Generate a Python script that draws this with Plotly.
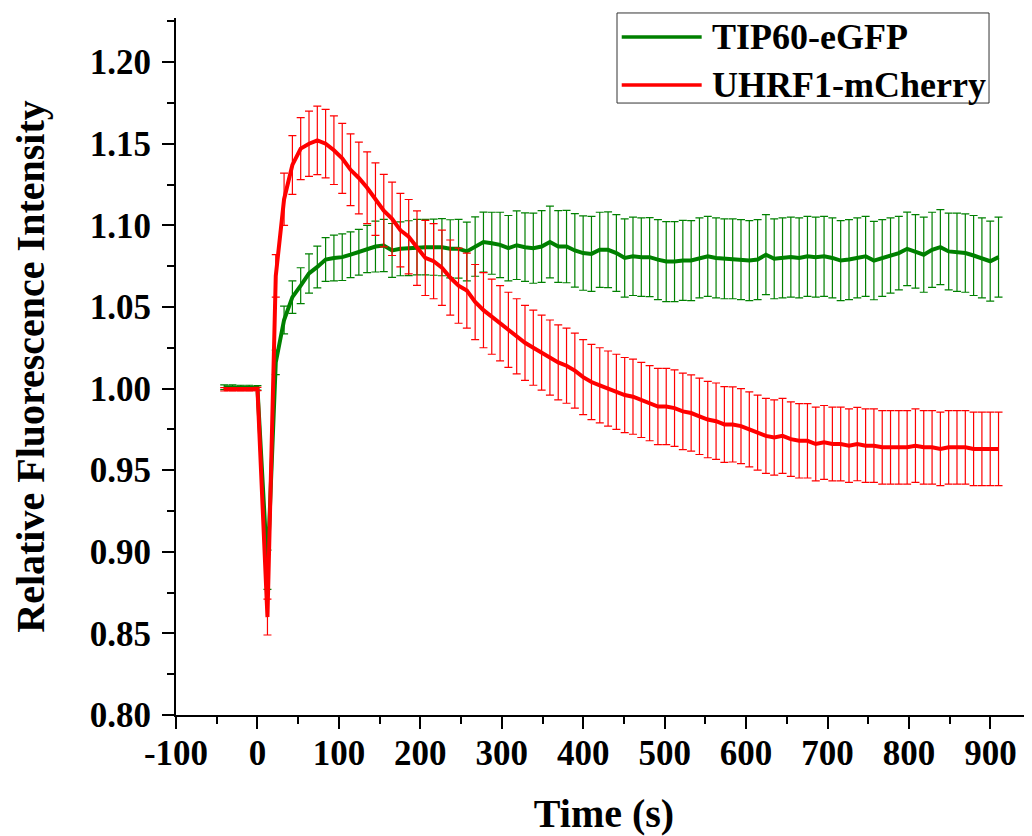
import plotly.graph_objects as go

# time points (s); bleach happens between 0 and the first post-bleach frame
time_s = [-40.8, -30.6, -20.4, -10.2, 0.0,
          12.3, 22.5, 32.7, 42.9, 53.1, 63.3, 73.5, 83.7, 93.9, 104.1,
          114.3, 124.5, 134.7, 144.9, 155.1, 165.3, 175.5, 185.7, 195.9, 206.1,
          216.3, 226.5, 236.7, 246.9, 257.1, 267.3, 277.5, 287.7, 297.9, 308.1,
          318.3, 328.5, 338.7, 348.9, 359.1, 369.3, 379.5, 389.7, 399.9, 410.1,
          420.3, 430.5, 440.7, 450.9, 461.1, 471.3, 481.5, 491.7, 501.9, 512.1,
          522.3, 532.5, 542.7, 552.9, 563.1, 573.3, 583.5, 593.7, 603.9, 614.1,
          624.3, 634.5, 644.7, 654.9, 665.1, 675.3, 685.5, 695.7, 705.9, 716.1,
          726.3, 736.5, 746.7, 756.9, 767.1, 777.3, 787.5, 797.7, 807.9, 818.1,
          828.3, 838.5, 848.7, 858.9, 869.1, 879.3, 889.5, 899.7, 909.9]

tip60_mean = [1.0008, 1.0007, 1.0006, 1.0006, 1.0004,
              0.889, 1.016, 1.042, 1.056, 1.063, 1.0705, 1.0745, 1.079, 1.080, 1.0805,
              1.082, 1.0835, 1.0855, 1.087, 1.0876, 1.0846, 1.0856, 1.086, 1.0866, 1.0866,
              1.0866, 1.0866, 1.0856, 1.0856, 1.084, 1.087, 1.0897, 1.089, 1.088, 1.086,
              1.0878, 1.0866, 1.086, 1.087, 1.0898, 1.087, 1.087, 1.0846, 1.083, 1.0825,
              1.085, 1.085, 1.083, 1.080, 1.081, 1.0805, 1.0805, 1.079, 1.0778, 1.0778,
              1.0785, 1.0784, 1.080, 1.081, 1.080, 1.0795, 1.0795, 1.079, 1.0784, 1.079,
              1.082, 1.0795, 1.080, 1.0805, 1.080, 1.081, 1.0805, 1.081, 1.080, 1.0784,
              1.079, 1.080, 1.081, 1.0784, 1.080, 1.0815, 1.083, 1.0856, 1.084, 1.082,
              1.085, 1.0866, 1.084, 1.0835, 1.083, 1.0815, 1.080, 1.078, 1.0805]

tip60_err = [0.0015, 0.0015, 0.0014, 0.0014, 0.0014,
             0.012, 0.0075, 0.0085, 0.010, 0.011, 0.012, 0.0128, 0.0134, 0.014, 0.0143,
             0.014, 0.014, 0.0145, 0.0156, 0.016, 0.0165, 0.0165, 0.0168, 0.017, 0.017,
             0.0172, 0.0175, 0.0178, 0.018, 0.018, 0.0182, 0.0184, 0.019, 0.020, 0.020,
             0.021, 0.021, 0.0215, 0.022, 0.022, 0.022, 0.0222, 0.0225, 0.0228, 0.023,
             0.023, 0.0232, 0.0235, 0.024, 0.024, 0.024, 0.0242, 0.0245, 0.0245, 0.0245,
             0.0245, 0.0245, 0.0245, 0.0245, 0.0245, 0.0245, 0.0245, 0.0245, 0.0245, 0.0245,
             0.0245, 0.0245, 0.0245, 0.0245, 0.0245, 0.0245, 0.0245, 0.0245, 0.0245, 0.0245,
             0.0245, 0.0245, 0.0245, 0.024, 0.0235, 0.023, 0.0225, 0.0225, 0.0225, 0.023,
             0.023, 0.023, 0.0235, 0.024, 0.024, 0.0245, 0.0245, 0.0245, 0.0245]

uhrf1_mean = [0.9995, 0.9995, 0.9996, 0.9996, 0.9997,
              0.860, 1.069, 1.116, 1.137, 1.147, 1.150, 1.152, 1.150, 1.146, 1.141,
              1.134, 1.129, 1.123, 1.116, 1.109, 1.104, 1.097, 1.093, 1.086, 1.080,
              1.078, 1.074, 1.068, 1.063, 1.060, 1.053, 1.048, 1.044, 1.040, 1.036,
              1.032, 1.028, 1.025, 1.022, 1.019, 1.016, 1.014, 1.011, 1.007, 1.004,
              1.002, 1.000, 0.998, 0.996, 0.995, 0.993, 0.991, 0.989, 0.989, 0.988,
              0.986, 0.985, 0.983, 0.981, 0.980, 0.978, 0.978, 0.977, 0.975, 0.973,
              0.971, 0.970, 0.971, 0.969, 0.968, 0.968, 0.966, 0.967, 0.966, 0.966,
              0.965, 0.966, 0.965, 0.965, 0.964, 0.964, 0.964, 0.964, 0.965, 0.964,
              0.964, 0.963, 0.964, 0.964, 0.964, 0.963, 0.963, 0.963, 0.963]

uhrf1_err = [0.001, 0.001, 0.001, 0.001, 0.001,
             0.011, 0.013, 0.016, 0.018, 0.019, 0.020, 0.021, 0.021, 0.021, 0.0215,
             0.022, 0.022, 0.022, 0.0222, 0.0222, 0.0225, 0.0225, 0.0228, 0.0228, 0.023,
             0.023, 0.023, 0.023, 0.023, 0.023, 0.023, 0.023, 0.023, 0.023, 0.023,
             0.023, 0.023, 0.023, 0.023, 0.023, 0.023, 0.023, 0.023, 0.023, 0.023,
             0.023, 0.023, 0.023, 0.023, 0.023, 0.023, 0.023, 0.0234, 0.0234, 0.0234,
             0.0234, 0.0234, 0.0234, 0.0234, 0.0234, 0.0232, 0.023, 0.023, 0.023, 0.023,
             0.023, 0.023, 0.023, 0.0228, 0.0228, 0.0228, 0.0226, 0.0226, 0.0226, 0.0226,
             0.0225, 0.0225, 0.0225, 0.0225, 0.0225, 0.0225, 0.0225, 0.0225, 0.0225, 0.0225,
             0.0225, 0.0225, 0.0225, 0.0225, 0.0225, 0.0225, 0.0225, 0.0225, 0.0225]

series_names = ['TIP60-eGFP', 'UHRF1-mCherry']

x_ticks = [-100, 0, 100, 200, 300, 400, 500, 600, 700, 800, 900]
x_labels = ['-100', '0', '100', '200', '300', '400', '500', '600', '700', '800', '900']
y_ticks = [0.80, 0.85, 0.90, 0.95, 1.00, 1.05, 1.10, 1.15, 1.20]

font_family = 'Liberation Serif, Times New Roman, serif'
green = '#008000'
red = '#FF0000'

fig = go.Figure()
fig.add_trace(go.Scatter(
    x=time_s, y=tip60_mean,
    mode='lines', name=series_names[0],
    line=dict(color=green, width=4),
    error_y=dict(type='data', array=tip60_err, color=green, thickness=1.2, width=4),
))
fig.add_trace(go.Scatter(
    x=time_s, y=uhrf1_mean,
    mode='lines', name=series_names[1],
    line=dict(color=red, width=4),
    error_y=dict(type='data', array=uhrf1_err, color=red, thickness=1.2, width=4),
))

axis_common = dict(
    showline=True, linecolor='black', linewidth=2,
    ticks='outside', ticklen=12, tickwidth=2, tickcolor='black',
    showgrid=False, zeroline=False, automargin=True,
    tickfont=dict(family=font_family, size=35, color='black', weight='bold'),
)
fig.update_xaxes(
    range=[-100, 951], tickvals=x_ticks, ticktext=x_labels,
    ticklabelstandoff=-6,
    minor=dict(ticks='outside', ticklen=7, tickwidth=2, tickcolor='black', dtick=50, tick0=-100),
    title=dict(text='Time (s)', standoff=30,
               font=dict(family=font_family, size=40, color='black', weight='bold')),
    **axis_common
)
fig.update_yaxes(
    range=[0.8, 1.227], tickvals=y_ticks, tickformat='.2f',
    minor=dict(ticks='outside', ticklen=7, tickwidth=2, tickcolor='black', dtick=0.025, tick0=0.8),
    ticklabelstandoff=4,
    title=dict(text='Relative Fluorescence Intensity', standoff=34,
               font=dict(family=font_family, size=40, color='black', weight='bold')),
    **axis_common
)

# legend drawn by hand so the box is as compact as the original (long line samples)
legend_rows = [(0.9727, green), (0.9039, red)]
fig.add_shape(type='rect', xref='paper', yref='paper',
              x0=0.5152, x1=0.9498, y0=0.878, y1=1.0072,
              line=dict(color='#333333', width=1), fillcolor='white', layer='above')
for (row_y, color), name in zip(legend_rows, series_names):
    fig.add_shape(type='line', xref='paper', yref='paper',
                  x0=0.5207, x1=0.6141, y0=row_y, y1=row_y,
                  line=dict(color=color, width=3.5), layer='above')
    fig.add_annotation(xref='paper', yref='paper', x=0.6235, y=row_y,
                       text=name, showarrow=False, xanchor='left', yanchor='middle',
                       font=dict(family=font_family, size=36, color='black', weight='bold'))

# page body has an 8px margin, so the figure is 8px smaller each way
fig.update_layout(
    width=1024, height=828,
    plot_bgcolor='white', paper_bgcolor='white',
    margin=dict(l=168, r=0, t=10, b=121, autoexpand=False),
    showlegend=False,
)

fig.write_html("out.html")
